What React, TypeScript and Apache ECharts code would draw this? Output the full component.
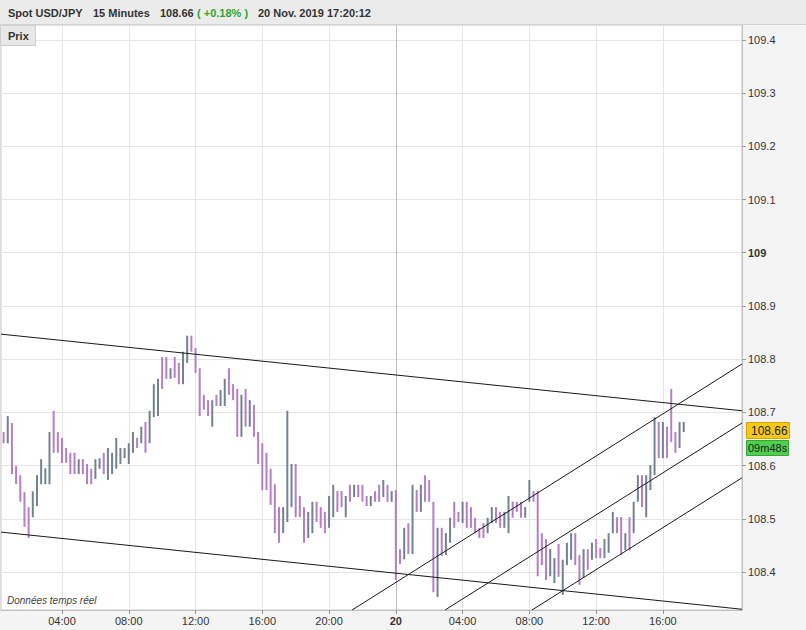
import React, { useEffect, useRef } from 'react';
import * as echarts from 'echarts';

// 15-minute bars, USD/JPY, starting 19 Nov 2019 00:30 (hours counted from 19 Nov 00:00)
const firstBarHour = 0.5;
const barStepHours = 0.25;

const barHighs = [
  108.663, 108.693, 108.680, 108.599, 108.582, 108.550, 108.522, 108.552, 108.582, 108.612,
  108.595, 108.663, 108.703, 108.663, 108.652, 108.633, 108.624, 108.624, 108.612, 108.612,
  108.603, 108.594, 108.612, 108.614, 108.624, 108.633, 108.624, 108.652, 108.633, 108.633,
  108.642, 108.663, 108.652, 108.673, 108.682, 108.703, 108.753, 108.763, 108.804, 108.804,
  108.783, 108.804, 108.793, 108.814, 108.844, 108.844, 108.821, 108.783, 108.733, 108.723,
  108.723, 108.733, 108.742, 108.763, 108.783, 108.753, 108.744, 108.733, 108.744, 108.723,
  108.714, 108.663, 108.642, 108.624, 108.594, 108.565, 108.522, 108.522, 108.703, 108.603,
  108.603, 108.543, 108.522, 108.513, 108.532, 108.532, 108.522, 108.513, 108.543, 108.564,
  108.552, 108.552, 108.543, 108.564, 108.564, 108.564, 108.564, 108.543, 108.543, 108.552,
  108.564, 108.573, 108.564, 108.552, 108.554, 108.443, 108.483, 108.492, 108.564, 108.554,
  108.564, 108.582, 108.573, 108.532, 108.483, 108.483, 108.473, 108.502, 108.532, 108.513,
  108.532, 108.532, 108.522, 108.502, 108.483, 108.492, 108.502, 108.522, 108.522, 108.513,
  108.513, 108.543, 108.532, 108.532, 108.532, 108.522, 108.573, 108.552, 108.552, 108.473,
  108.462, 108.443, 108.426, 108.453, 108.423, 108.455, 108.473, 108.473, 108.432, 108.443,
  108.443, 108.455, 108.462, 108.445, 108.462, 108.473, 108.513, 108.503, 108.503, 108.473,
  108.503, 108.532, 108.582, 108.582, 108.582, 108.601, 108.691, 108.682, 108.682, 108.673,
  108.744, 108.663, 108.682, 108.682,
];

const barLows = [
  108.642, 108.642, 108.584, 108.565, 108.532, 108.485, 108.464, 108.503, 108.524, 108.565,
  108.565, 108.565, 108.624, 108.624, 108.605, 108.605, 108.584, 108.584, 108.584, 108.584,
  108.565, 108.565, 108.575, 108.594, 108.584, 108.573, 108.584, 108.594, 108.603, 108.614,
  108.603, 108.624, 108.633, 108.642, 108.624, 108.642, 108.691, 108.693, 108.744, 108.763,
  108.763, 108.765, 108.753, 108.753, 108.793, 108.814, 108.774, 108.693, 108.705, 108.693,
  108.673, 108.712, 108.712, 108.712, 108.733, 108.723, 108.654, 108.654, 108.673, 108.673,
  108.654, 108.603, 108.554, 108.554, 108.526, 108.473, 108.455, 108.473, 108.494, 108.522,
  108.503, 108.503, 108.455, 108.464, 108.473, 108.494, 108.483, 108.473, 108.483, 108.503,
  108.513, 108.522, 108.503, 108.532, 108.541, 108.541, 108.532, 108.524, 108.524, 108.532,
  108.532, 108.541, 108.532, 108.532, 108.385, 108.415, 108.424, 108.434, 108.434, 108.513,
  108.513, 108.532, 108.532, 108.362, 108.353, 108.430, 108.432, 108.455, 108.483, 108.494,
  108.492, 108.483, 108.483, 108.473, 108.464, 108.464, 108.473, 108.492, 108.492, 108.483,
  108.483, 108.473, 108.502, 108.513, 108.502, 108.502, 108.532, 108.532, 108.392, 108.413,
  108.385, 108.392, 108.379, 108.391, 108.357, 108.413, 108.423, 108.413, 108.376, 108.389,
  108.404, 108.423, 108.426, 108.426, 108.426, 108.436, 108.473, 108.473, 108.432, 108.441,
  108.441, 108.473, 108.532, 108.522, 108.503, 108.554, 108.582, 108.614, 108.614, 108.614,
  108.644, 108.624, 108.633, 108.663,
];

// u = rising bar (grey), d = falling bar (purple)
const barDirs = (
  'duddddduuu' + 'uuddddddud' + 'dduuduuuuu' + 'uududuuudd' + 'udduuddddd' +
  'uduudddudu' + 'ddddddduuu' + 'ddduuddduu' + 'ddududddud' + 'dududdudud' +
  'uddduduudd' + 'uddddduudd' + 'uuddduuddd' + 'duuduuuddu' + 'dudduuuddu' +
  'duuduuudud' + 'dduu'
).split('');

const xTickValues = [4, 8, 12, 16, 20, 24, 28, 32, 36, 40];
const xTickLabels = ['04:00', '08:00', '12:00', '16:00', '20:00', '20', '04:00', '08:00', '12:00', '16:00'];
const dayBreakHour = 24;

const yTickValues = [108.4, 108.5, 108.6, 108.7, 108.8, 108.9, 109, 109.1, 109.2, 109.3, 109.4];
const yTickLabels = ['108.4', '108.5', '108.6', '108.7', '108.8', '108.9', '109', '109.1', '109.2', '109.3', '109.4'];

const trendLines = [
  [[0.345, 108.847], [44.74, 108.703]],
  [[0.345, 108.475], [44.74, 108.330]],
  [[21.38, 108.3286], [44.74, 108.791]],
  [[26.95, 108.3286], [44.74, 108.680]],
  [[32.16, 108.3286], [44.74, 108.577]],
];

const lastPrice = 108.66;
const countdownText = '09m48s';

const headerItems = [
  { text: 'Spot USD/JPY', x: 8, color: '#333333' },
  { text: '15 Minutes', x: 93, color: '#333333' },
  { text: '108.66', x: 160, color: '#333333' },
  { text: '( +0.18% )', x: 197, color: '#2fa52f' },
  { text: '20 Nov. 2019 17:20:12', x: 258, color: '#333333' },
];

const FONT = "'Liberation Sans', Arial, sans-serif";
const UP_COLOR = '#738292';
const DOWN_COLOR = '#b47fc8';

export default function App() {
  const ref = useRef<HTMLDivElement>(null);

  useEffect(() => {
    document.body.style.margin = '0';
    if (!ref.current) return;
    const chart = echarts.init(ref.current, null, { renderer: 'svg' });

    const barData = barHighs.map((h, i) => [
      firstBarHour + i * barStepHours,
      h,
      barLows[i],
      barDirs[i] === 'u' ? 1 : 0,
    ]);

    const fmtX = (v: number) => {
      const i = xTickValues.findIndex((t) => Math.abs(t - v) < 1e-6);
      if (i < 0) return '';
      const s = xTickLabels[i];
      return s.indexOf(':') < 0 ? `{b|${s}}` : s;
    };
    const fmtY = (v: number) => {
      const i = yTickValues.findIndex((t) => Math.abs(t - v) < 1e-6);
      if (i < 0) return '';
      const s = yTickLabels[i];
      return s.indexOf('.') < 0 ? `{b|${s}}` : s;
    };

    const series: any[] = [
      {
        type: 'custom',
        name: 'bars',
        z: 2,
        encode: { x: 0, y: [1, 2] },
        data: barData,
        renderItem: (params: any, api: any) => {
          const x = api.value(0);
          const hi = api.value(1);
          const lo = api.value(2);
          const up = api.value(3);
          const p1 = api.coord([x, hi]);
          const p2 = api.coord([x, lo]);
          return {
            type: 'rect',
            shape: { x: p1[0] - 1, y: p1[1], width: 2, height: Math.max(1, p2[1] - p1[1]) },
            style: { fill: up ? UP_COLOR : DOWN_COLOR },
          };
        },
      },
    ];

    trendLines.forEach((ln, idx) => {
      const s: any = {
        type: 'line',
        z: 4,
        data: ln,
        showSymbol: false,
        symbol: 'none',
        silent: true,
        lineStyle: { color: '#1a1a1a', width: 1 },
      };
      if (idx === 0) {
        s.markLine = {
          silent: true,
          symbol: 'none',
          label: { show: false },
          lineStyle: { color: '#bdbdbd', type: 'solid', width: 1 },
          data: [{ xAxis: dayBreakHour }],
          z: 1,
        };
      }
      series.push(s);
    });

    chart.setOption({
      animation: false,
      backgroundColor: '#f4f4f4',
      grid: {
        left: 1,
        right: 64,
        top: 25,
        bottom: 20,
        show: true,
        backgroundColor: '#ffffff',
        borderColor: '#c8c8c8',
        borderWidth: 1,
        containLabel: false,
        outerBoundsMode: 'none',
      },
      xAxis: {
        type: 'value',
        min: 0.345,
        max: 44.74,
        axisLine: { show: true, lineStyle: { color: '#c0c0c0' } },
        axisTick: { show: true, customValues: xTickValues, length: 4, lineStyle: { color: '#999999' } },
        axisLabel: {
          customValues: xTickValues,
          formatter: fmtX,
          margin: 5,
          color: '#333333',
          fontSize: 11,
          fontFamily: FONT,
          rich: { b: { fontWeight: 'bold', fontSize: 11, fontFamily: FONT, color: '#333333' } },
        },
        splitLine: { show: true, lineStyle: { color: '#e6e6e6', width: 1 } },
      },
      yAxis: {
        type: 'value',
        position: 'right',
        min: 108.3286,
        max: 109.428,
        axisLine: { show: true, lineStyle: { color: '#c0c0c0' } },
        axisTick: { show: true, customValues: yTickValues, length: 4, lineStyle: { color: '#999999' } },
        axisLabel: {
          customValues: yTickValues,
          formatter: fmtY,
          margin: 6,
          color: '#333333',
          fontSize: 11,
          fontFamily: FONT,
          rich: { b: { fontWeight: 'bold', fontSize: 11, fontFamily: FONT, color: '#333333' } },
        },
        splitLine: { show: true, lineStyle: { color: '#e6e6e6', width: 1 } },
      },
      series,
    });

    const py = Math.round(chart.convertToPixel({ yAxisIndex: 0 }, lastPrice) as number);

    const graphics: any[] = [
      { type: 'rect', shape: { x: 0, y: 0, width: 806, height: 24 }, style: { fill: '#ebebeb' }, z: 10 },
      { type: 'line', shape: { x1: 0, y1: 24.5, x2: 806, y2: 24.5 }, style: { stroke: '#d2d2d2', lineWidth: 1 }, z: 10 },
      ...headerItems.map((h) => ({
        type: 'text',
        x: h.x,
        y: 13,
        z: 11,
        style: {
          text: h.text,
          fill: h.color,
          font: `bold 11px ${FONT}`,
          verticalAlign: 'middle',
        },
      })),
      {
        type: 'rect',
        shape: { x: 0.5, y: 25.5, width: 35, height: 20 },
        style: { fill: '#e8e8e8', stroke: '#cfcfcf', lineWidth: 1 },
        z: 10,
      },
      {
        type: 'text',
        x: 8,
        y: 36,
        z: 11,
        style: { text: 'Prix', fill: '#333333', font: `bold 11px ${FONT}`, verticalAlign: 'middle' },
      },
      {
        type: 'text',
        x: 7,
        y: 600,
        z: 11,
        style: { text: 'Données temps réel', fill: '#444444', font: `italic 10px ${FONT}`, verticalAlign: 'middle' },
      },
      {
        type: 'rect',
        shape: { x: 746.5, y: py - 11.5, width: 43, height: 16 },
        style: { fill: '#f5c915', stroke: '#d6a700', lineWidth: 1 },
        z: 10,
      },
      {
        type: 'text',
        x: 751,
        y: py - 3,
        z: 11,
        style: { text: lastPrice.toFixed(2), fill: '#222222', font: `12px ${FONT}`, verticalAlign: 'middle' },
      },
      {
        type: 'rect',
        shape: { x: 746.5, y: py + 6.5, width: 42, height: 15 },
        style: { fill: '#4fcf4f', stroke: '#37a837', lineWidth: 1 },
        z: 10,
      },
      {
        type: 'text',
        x: 748,
        y: py + 14,
        z: 11,
        style: { text: countdownText, fill: '#222222', font: `11px ${FONT}`, verticalAlign: 'middle' },
      },
    ];

    chart.setOption({ graphic: graphics });

    return () => {
      chart.dispose();
    };
  }, []);

  return <div ref={ref} style={{ width: 806, height: 630 }} />;
}
